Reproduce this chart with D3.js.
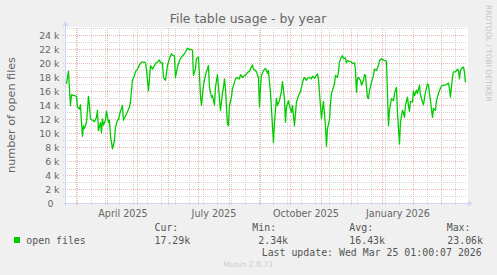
<!DOCTYPE html>
<html>
<head>
<meta charset="utf-8">
<script src="https://cdn.jsdelivr.net/npm/d3@7/dist/d3.min.js"></script>
<style>
  body { margin: 0; background: #f0f0f0; }
  svg { display: block; }
</style>
</head>
<body>
<svg id="chart"></svg>
<script>
// daily averages
const days = [
  "2025-02-19","2025-02-21","2025-02-23","2025-02-24","2025-02-27","2025-03-01","2025-03-02","2025-03-04",
  "2025-03-05","2025-03-06","2025-03-07","2025-03-08","2025-03-09","2025-03-11","2025-03-12","2025-03-13",
  "2025-03-14","2025-03-15","2025-03-17","2025-03-19","2025-03-21","2025-03-22","2025-03-23","2025-03-25",
  "2025-03-26","2025-03-27","2025-03-28","2025-03-30","2025-03-31","2025-04-02","2025-04-03","2025-04-04",
  "2025-04-06","2025-04-08","2025-04-09","2025-04-11","2025-04-12","2025-04-14","2025-04-15","2025-04-16",
  "2025-04-17","2025-04-19","2025-04-21","2025-04-23","2025-04-24","2025-04-26","2025-04-28","2025-04-29",
  "2025-05-01","2025-05-03","2025-05-05","2025-05-08","2025-05-09","2025-05-10","2025-05-12","2025-05-13",
  "2025-05-14","2025-05-16","2025-05-18","2025-05-19","2025-05-21","2025-05-23","2025-05-24","2025-05-26",
  "2025-05-27","2025-05-29","2025-05-31","2025-06-02","2025-06-04","2025-06-05","2025-06-07","2025-06-08",
  "2025-06-10","2025-06-12","2025-06-13","2025-06-15","2025-06-17","2025-06-19","2025-06-20","2025-06-22",
  "2025-06-24","2025-06-25","2025-06-26","2025-06-28","2025-06-29","2025-07-01","2025-07-02","2025-07-03",
  "2025-07-04","2025-07-06","2025-07-08","2025-07-09","2025-07-11","2025-07-12","2025-07-14","2025-07-15",
  "2025-07-17","2025-07-18","2025-07-20","2025-07-22","2025-07-23","2025-07-25","2025-07-26","2025-07-27",
  "2025-07-28","2025-07-30","2025-07-31","2025-08-01","2025-08-03","2025-08-04","2025-08-06","2025-08-07",
  "2025-08-09","2025-08-11","2025-08-12","2025-08-14","2025-08-16","2025-08-17","2025-08-19","2025-08-21",
  "2025-08-22","2025-08-24","2025-08-25","2025-08-27","2025-08-28","2025-08-30","2025-08-31","2025-09-01",
  "2025-09-02","2025-09-04","2025-09-06","2025-09-07","2025-09-08","2025-09-09","2025-09-11","2025-09-13",
  "2025-09-14","2025-09-15","2025-09-17","2025-09-18","2025-09-20","2025-09-22","2025-09-23","2025-09-25",
  "2025-09-26","2025-09-27","2025-09-29","2025-09-30","2025-10-02","2025-10-03","2025-10-05","2025-10-06",
  "2025-10-07","2025-10-09","2025-10-11","2025-10-12","2025-10-14","2025-10-15","2025-10-17","2025-10-18",
  "2025-10-20","2025-10-22","2025-10-23","2025-10-25","2025-10-27","2025-10-28","2025-10-29","2025-10-31",
  "2025-11-01","2025-11-02","2025-11-03","2025-11-05","2025-11-06","2025-11-07","2025-11-09","2025-11-10",
  "2025-11-11","2025-11-13","2025-11-14","2025-11-15","2025-11-17","2025-11-18","2025-11-19","2025-11-21",
  "2025-11-22","2025-11-23","2025-11-25","2025-11-26","2025-11-27","2025-11-29","2025-12-01","2025-12-02",
  "2025-12-04","2025-12-05","2025-12-06","2025-12-07","2025-12-08","2025-12-10","2025-12-11","2025-12-13",
  "2025-12-14","2025-12-15","2025-12-17","2025-12-18","2025-12-19","2025-12-21","2025-12-23","2025-12-24",
  "2025-12-26","2025-12-28","2025-12-29","2025-12-31","2026-01-01","2026-01-03","2026-01-04","2026-01-05",
  "2026-01-06","2026-01-07","2026-01-08","2026-01-10","2026-01-12","2026-01-13","2026-01-15","2026-01-16",
  "2026-01-18","2026-01-19","2026-01-21","2026-01-22","2026-01-23","2026-01-24","2026-01-26","2026-01-27",
  "2026-01-28","2026-01-29","2026-01-31","2026-02-01","2026-02-02","2026-02-04","2026-02-05","2026-02-07",
  "2026-02-08","2026-02-10","2026-02-11","2026-02-13","2026-02-15","2026-02-16","2026-02-18","2026-02-20",
  "2026-02-21","2026-02-23","2026-02-24","2026-02-26","2026-02-27","2026-03-01","2026-03-03","2026-03-04",
  "2026-03-06","2026-03-08","2026-03-09","2026-03-10","2026-03-12","2026-03-13","2026-03-15","2026-03-17",
  "2026-03-18","2026-03-19","2026-03-20","2026-03-21","2026-03-23","2026-03-24","2026-03-25"
];
const openFiles = [
  17100,18900,14000,15500,15400,15300,13800,13500,
  14100,11600,9600,11100,10700,11600,13300,15300,
  14000,12100,11900,11700,12300,13300,10400,11600,
  10100,12100,11200,11900,13200,11600,11900,9700,
  7800,9000,10900,11900,12000,13200,13500,14000,
  11900,12500,13100,13800,14500,17600,18300,18800,
  19200,19800,20200,20200,20100,19200,16100,17800,
  19700,19200,19700,20000,20200,20500,20100,20100,
  18000,17600,19700,20700,21400,21200,21100,18000,
  19500,20400,20700,21100,21400,21900,22200,22000,
  22000,21900,18300,19200,20700,20900,18300,15400,
  14000,16900,18300,18800,19700,16600,15200,15400,
  14100,16600,18400,15000,13300,15700,16600,17800,
  16400,11400,11100,14000,15200,16400,17300,17800,
  18000,17800,18400,18000,18300,18300,18700,18900,
  19200,19800,19200,19000,18800,18000,13800,16600,
  18300,19000,19300,19000,18600,19000,15900,11100,
  8700,11600,15000,14000,14700,16100,17400,15000,
  11600,13800,14700,14000,13000,14000,11100,12800,
  14500,15400,16000,16600,17800,18000,17600,17900,
  18000,17800,18200,17900,18300,18500,17800,14000,
  12100,13500,14600,11100,8200,10700,11900,14200,
  15700,16600,17100,18300,18000,18800,20200,21000,
  21100,20700,20800,20100,20400,20300,20200,20000,
  20100,19200,15900,17800,18000,17600,16900,17600,
  18400,18300,15100,15000,16100,17300,18300,19200,
  19000,19700,20400,20700,20600,20400,20400,20300,
  15900,11100,13300,15000,14700,15700,16600,13000,
  8500,11600,13300,13000,12300,14000,15200,14000,
  13200,14600,14500,16100,15400,16200,15700,16900,
  15500,14500,14100,15900,17100,16900,14700,12300,
  13600,13300,14700,15700,16100,16800,16900,16900,
  17000,17200,16400,15200,18000,18800,18800,19200,
  19000,17800,19000,19300,19500,18800,17300
];
const yTickValues = [0, 2000, 4000, 6000, 8000, 10000, 12000, 14000, 16000, 18000, 20000, 22000, 24000];
const yTickLabels = ["0", "2 k", "4 k", "6 k", "8 k", "10 k", "12 k", "14 k", "16 k", "18 k", "20 k", "22 k", "24 k"];
const monthLabels = ["April 2025", "July 2025", "October 2025", "January 2026"];
const monthLabelDates = ["2025-04-16T12:00", "2025-07-16T12:00", "2025-10-16T12:00", "2026-01-16T12:00"];
const legendNames = ["Cur:", "Min:", "Avg:", "Max:"];
const legendValues = ["17.29k", "2.34k", "16.43k", "23.06k"];

const W = 497, H = 275;
const svg = d3.select("#chart").attr("width", W).attr("height", H);
const sans = "DejaVu Sans, Verdana, sans-serif";
const mono = "DejaVu Sans Mono, monospace";
const fontCol = "#666666";
const axisCol = "#CFD6F8";

const parseDay = d3.utcParse("%Y-%m-%d");
const parseHour = d3.utcParse("%Y-%m-%dT%H:%M");
const tEnd = Date.UTC(2026, 2, 25, 1, 0);
const tStart = tEnd - 400 * 86400000;

const x = d3.scaleUtc().domain([new Date(tStart), new Date(tEnd)]).range([65.5, 465.5]);
const y = d3.scaleLinear().domain([0, 25000]).range([203.5, 28.5]);
const px = v => Math.floor(v) + 0.5;

// canvas
svg.append("rect").attr("x", 66).attr("y", 27).attr("width", 402).attr("height", 177).attr("fill", "#fff");

const grid = svg.append("g").attr("shape-rendering", "crispEdges").attr("stroke-dasharray", "1,1").attr("stroke-width", 1);

// minor grid: every 1k and every 14 days
const minorY = d3.range(1000, 26000, 2000);
grid.selectAll(".hmin").data(minorY).join("line")
  .attr("x1", 63).attr("x2", 467)
  .attr("y1", d => px(y(d))).attr("y2", d => px(y(d)))
  .attr("stroke", "#d2d2d2");
const minorX = d3.utcDay.range(new Date(Date.UTC(2025, 2, 2)), x.domain()[1], 14);
grid.selectAll(".vmin").data(minorX).join("line")
  .attr("x1", d => px(x(d))).attr("x2", d => px(x(d)))
  .attr("y1", 28).attr("y2", 206)
  .attr("stroke", "#d2d2d2");

// major grid: every 2k and each month
grid.selectAll(".hmaj").data(yTickValues.slice(1)).join("line")
  .attr("x1", 63).attr("x2", 467)
  .attr("y1", d => px(y(d))).attr("y2", d => px(y(d)))
  .attr("stroke", "#efb4b4");
grid.selectAll(".vmaj").data(x.ticks(d3.utcMonth.every(1))).join("line")
  .attr("x1", d => px(x(d))).attr("x2", d => px(x(d)))
  .attr("y1", 28).attr("y2", 206)
  .attr("stroke", "#efb4b4");

// data line
const series = days.map((d, i) => ({ t: parseDay(d), v: openFiles[i] }));
svg.append("path")
  .datum(series)
  .attr("fill", "none")
  .attr("stroke", "#00cc00")
  .attr("stroke-width", 1.3)
  .attr("stroke-linejoin", "round")
  .attr("d", d3.line().x(d => x(d.t)).y(d => y(d.v)));

// axes and arrows
svg.append("line").attr("x1", 63).attr("x2", 469).attr("y1", 203.5).attr("y2", 203.5)
  .attr("stroke", axisCol).attr("shape-rendering", "crispEdges");
svg.append("line").attr("x1", 65.5).attr("x2", 65.5).attr("y1", 206).attr("y2", 25)
  .attr("stroke", axisCol).attr("shape-rendering", "crispEdges");
svg.append("path").attr("d", "M468,200.5L473,203.5L468,206.5Z").attr("fill", axisCol);
svg.append("path").attr("d", "M62.5,26L65.5,21L68.5,26Z").attr("fill", axisCol);

// y tick labels
svg.append("g").selectAll("text").data(yTickValues).join("text")
  .attr("x", d => d === 0 ? 53.5 : 59.5)
  .attr("y", d => y(d) + 3.5)
  .attr("text-anchor", "end")
  .attr("font-family", sans).attr("font-size", 9.4).attr("fill", fontCol)
  .text((d, i) => yTickLabels[i]);

// x month labels
svg.append("g").selectAll("text").data(monthLabels).join("text")
  .attr("x", (d, i) => x(parseHour(monthLabelDates[i])))
  .attr("y", 216.5)
  .attr("text-anchor", "middle")
  .attr("font-family", sans).attr("font-size", 9.6).attr("fill", fontCol)
  .text(d => d);

// title and axis title
svg.append("text").attr("x", 248).attr("y", 23).attr("text-anchor", "middle")
  .attr("font-family", sans).attr("font-size", 12.4).attr("fill", fontCol)
  .text("File table usage - by year");
svg.append("text").attr("transform", "translate(15,115) rotate(-90)").attr("text-anchor", "middle")
  .attr("font-family", sans).attr("font-size", 11.2).attr("fill", fontCol)
  .text("number of open files");

// watermark
svg.append("text").attr("transform", "translate(485.5,5) rotate(90)")
  .attr("font-family", sans).attr("font-size", 7.5).attr("fill", "#c4c4c4")
  .text("RRDTOOL / TOBI OETIKER");

// legend
svg.append("rect").attr("x", 14).attr("y", 237).attr("width", 6).attr("height", 6).attr("fill", "#00cc00");
svg.append("text").attr("x", 26.3).attr("y", 243.5)
  .attr("font-family", mono).attr("font-size", 9.9).attr("fill", "#555")
  .text("open files");
const headX = [154.5, 252.3, 349.3, 446.7];
const valX = [154.5, 258.3, 349.3, 447.3];
const leg = svg.append("g").attr("font-family", mono).attr("font-size", 9.9).attr("fill", "#555");
leg.selectAll(".lh").data(legendNames).join("text")
  .attr("x", (d, i) => headX[i]).attr("y", 231).text(d => d);
leg.selectAll(".lv").data(legendValues).join("text")
  .attr("x", (d, i) => valX[i]).attr("y", 243.5).text(d => d);
leg.append("text").attr("x", 261.7).attr("y", 255.5)
  .text("Last update: Wed Mar 25 01:00:07 2026");

svg.append("text").attr("x", 248).attr("y", 267).attr("text-anchor", "middle")
  .attr("font-family", sans).attr("font-size", 7.6).attr("fill", "#cccccc")
  .text("Munin 2.0.73");
</script>
</body>
</html>
